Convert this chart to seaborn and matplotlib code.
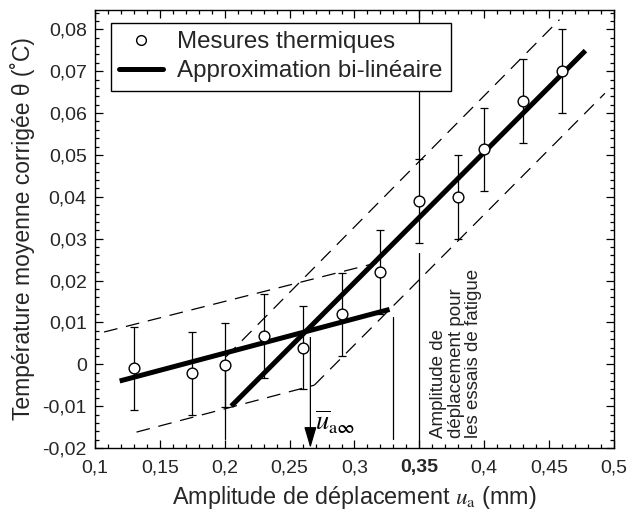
import matplotlib
matplotlib.use("Agg")
import matplotlib.pyplot as plt
from matplotlib.ticker import MultipleLocator, FixedLocator
from matplotlib.lines import Line2D
import seaborn as sns
import pandas as pd

# ---- data ----
x_meas = [0.13, 0.175, 0.20, 0.23, 0.26, 0.29, 0.32, 0.35, 0.38, 0.40, 0.43, 0.46]
y_meas = [-0.0010, -0.0022, -0.0002, 0.0068, 0.0040, 0.0119, 0.0220, 0.0390, 0.0399, 0.0513, 0.0628, 0.0700]
err_meas = [0.010] * 12

line1_x = [0.119, 0.327]
line1_y = [-0.0040, 0.0131]
line2_x = [0.205, 0.478]
line2_y = [-0.0100, 0.0749]

band1_up_x = [0.107, 0.317]
band1_up_y = [0.0077, 0.0242]
band2_up_x = [0.201, 0.458]
band2_up_y = [0.0018, 0.0823]
band1_lo_x = [0.132, 0.269]
band1_lo_y = [-0.0162, -0.0050]
band2_lo_x = [0.269, 0.493]
band2_lo_y = [-0.0050, 0.0647]

u_inf = 0.266
u_fatigue = 0.35

x_ticks = [0.1, 0.15, 0.2, 0.25, 0.3, 0.35, 0.4, 0.45, 0.5]
x_ticklabels = ["0,1", "0,15", "0,2", "0,25", "0,3", "0,35", "0,4", "0,45", "0,5"]
y_ticks = [-0.02, -0.01, 0, 0.01, 0.02, 0.03, 0.04, 0.05, 0.06, 0.07, 0.08]
y_ticklabels = ["-0,02", "-0,01", "0", "0,01", "0,02", "0,03", "0,04", "0,05", "0,06", "0,07", "0,08"]

# ---- style ----
sns.set_style("ticks")
plt.rcParams["font.family"] = ["Liberation Sans", "DejaVu Sans"]
plt.rcParams["mathtext.fontset"] = "stix"

fig = plt.figure(figsize=(6.31, 5.13), dpi=100)
ax = fig.add_axes([0.1506, 0.1267, 0.8224, 0.8538])

K = "black"
dash = (0, (11, 7))

# dashed bands
for bx, by in [(band1_up_x, band1_up_y), (band2_up_x, band2_up_y),
               (band1_lo_x, band1_lo_y), (band2_lo_x, band2_lo_y)]:
    ax.plot(bx, by, color=K, lw=0.9, linestyle=dash, zorder=2)

# vertical reference lines
ax.plot([0.20, 0.20], [-0.0178, 0.0], color=K, lw=0.9, zorder=2)
ax.plot([0.33, 0.33], [-0.0178, 0.0114], color=K, lw=0.9, zorder=2)
ax.plot([u_fatigue, u_fatigue], [-0.02, 0.0265], color=K, lw=0.9, zorder=2)
ax.plot([u_fatigue, u_fatigue], [0.049, 0.0846], color=K, lw=0.9, zorder=2)

# bi-linear approximation
df1 = pd.DataFrame({"x": line1_x, "y": line1_y})
df2 = pd.DataFrame({"x": line2_x, "y": line2_y})
sns.lineplot(data=df1, x="x", y="y", color=K, lw=3.6, ax=ax, zorder=3,
             solid_capstyle="butt")
sns.lineplot(data=df2, x="x", y="y", color=K, lw=3.6, ax=ax, zorder=3,
             solid_capstyle="butt")

# error bars + measurements
ax.errorbar(x_meas, y_meas, yerr=err_meas, fmt="none", ecolor=K,
            elinewidth=0.9, capsize=3.0, capthick=0.9, zorder=4)
dfm = pd.DataFrame({"x": x_meas, "y": y_meas})
sns.scatterplot(data=dfm, x="x", y="y", marker="o", s=60, facecolor="white",
                edgecolor=K, linewidth=1.0, ax=ax, zorder=5)

# arrow for u_a infinity
ax.annotate("", xy=(u_inf, -0.0200), xytext=(u_inf, 0.0064),
            arrowprops=dict(arrowstyle="-|>,head_length=0.65,head_width=0.19",
                            mutation_scale=20, color=K, lw=0.9,
                            shrinkA=0, shrinkB=0),
            zorder=4, annotation_clip=False)
ax.text(0.2695, -0.0158, r"$\overline{u}_{\mathrm{a}\mathbf{\infty}}$",
        fontsize=19, color=K, ha="left", va="baseline")

ax.text(0.3785, -0.0176,
        "Amplitude de\ndéplacement pour\nles essais de fatigue",
        rotation=90, ha="center", va="bottom", multialignment="left",
        fontsize=13.5, linespacing=1.05, color="#222222")

# axes
ax.set_xlim(0.1, 0.5)
ax.set_ylim(-0.02, 0.0846)
ax.xaxis.set_major_locator(FixedLocator(x_ticks))
ax.set_xticklabels(x_ticklabels)
ax.yaxis.set_major_locator(FixedLocator(y_ticks))
ax.set_yticklabels(y_ticklabels)
ax.xaxis.set_minor_locator(MultipleLocator(0.01))
ax.yaxis.set_minor_locator(MultipleLocator(0.002))
ax.tick_params(which="both", direction="in", top=True, right=True,
               color=K, width=0.9)
ax.tick_params(which="major", length=6, labelsize=14, pad=6)
ax.tick_params(axis="x", which="major", pad=8)
ax.tick_params(which="minor", length=3)
for lab in ax.get_xticklabels():
    if lab.get_text() == "0,35":
        lab.set_fontweight("bold")
for s in ax.spines.values():
    s.set_linewidth(1.0)
    s.set_color(K)

ax.set_xlabel(r"Amplitude de déplacement $u_{\mathrm{a}}$ (mm)", fontsize=16.8, labelpad=6)
ax.set_ylabel("Température moyenne corrigée θ (˚C)", fontsize=16.5, labelpad=5)

handles = [
    Line2D([], [], linestyle="none", marker="o", markersize=7,
           markerfacecolor="white", markeredgecolor=K, markeredgewidth=1.0),
    Line2D([], [], color=K, lw=3.6),
]
leg = ax.legend(handles, ["Mesures thermiques", "Approximation bi-linéaire"],
                loc="upper left", bbox_to_anchor=(0.030, 0.971), borderaxespad=0,
                fontsize=17.4, frameon=True, fancybox=False, edgecolor=K,
                framealpha=1, handlelength=1.8, handletextpad=0.6,
                labelspacing=0.3, borderpad=0.35)
leg.get_frame().set_linewidth(1.0)
leg.set_zorder(10)

fig.savefig("out.png", dpi=100)
